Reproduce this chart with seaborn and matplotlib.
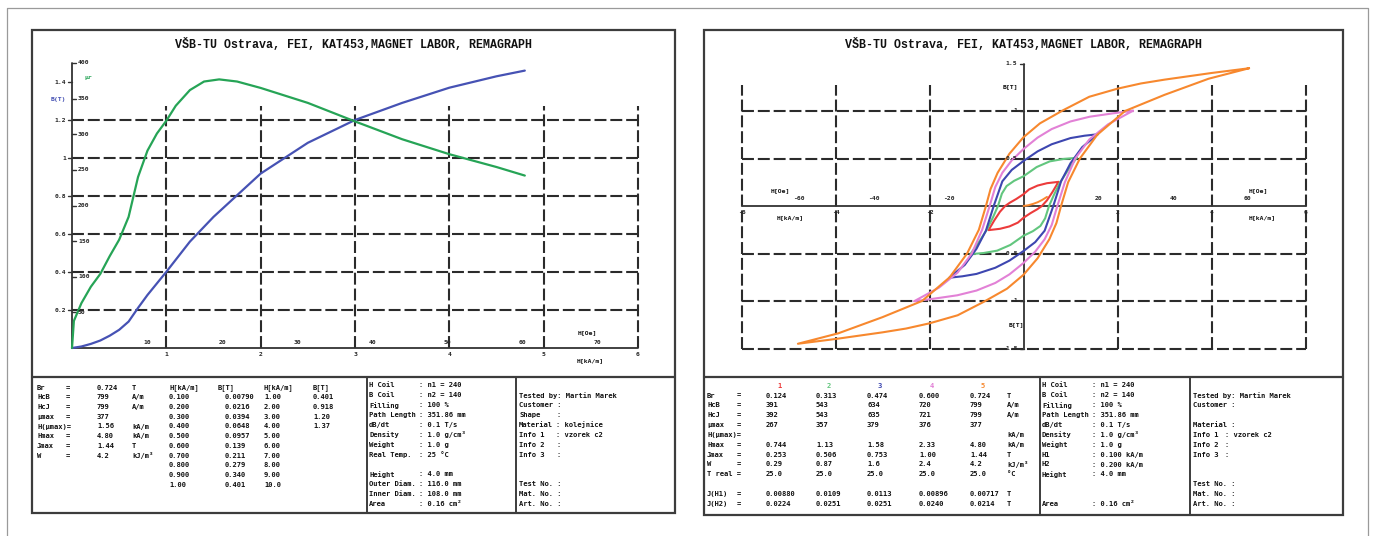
import matplotlib
matplotlib.use("Agg")
import matplotlib.pyplot as plt
from matplotlib.patches import Rectangle
import pandas as pd
import seaborn as sns

sns.set_theme(style="white")
plt.rcParams["font.family"] = ["DejaVu Sans Mono", "DejaVu Sans"]
plt.rcParams["font.weight"] = "bold"
plt.rcParams["lines.scale_dashes"] = False

TITLE = "VŠB-TU Ostrava, FEI, KAT453,MAGNET LABOR, REMAGRAPH"
OE = 0.0795775  # kA/m per oersted

# ---------------- initial magnetisation curve (left chart) ----------------
H_fine = [0.1, 0.2, 0.3, 0.4, 0.5, 0.6, 0.7, 0.8, 0.9, 1.0]
B_fine = [0.00790, 0.0216, 0.0394, 0.0648, 0.0957, 0.139, 0.211, 0.279, 0.340, 0.401]
H_coarse = [1.0, 2.0, 3.0, 4.0, 5.0, 6.0, 7.0, 8.0, 9.0, 10.0]
B_coarse = [0.401, 0.918, 1.20, 1.37]
H_extra = [1.25, 1.5, 2.5, 3.5, 4.5, 4.8]
B_extra = [0.56, 0.69, 1.08, 1.29, 1.43, 1.46]

# relative permeability
H_mu = [0.0, 0.02, 0.1, 0.2, 0.3, 0.4, 0.5, 0.6, 0.7, 0.8, 0.9, 1.0, 1.1, 1.25,
        1.4, 1.56, 1.75, 2.0, 2.5, 3.0, 3.5, 4.0, 4.5, 4.8]
mu_r = [0, 38, 63, 86, 104, 129, 152, 184, 240, 277, 301, 319, 340, 362,
        374, 377, 374, 365, 344, 318, 293, 272, 254, 242]

# summary of the initial curve
sum_labels = ["Br", "HcB", "HcJ", "μmax", "H(μmax)=", "Hmax", "Jmax", "W"]
sum_values = ["0.724", "799", "799", "377", "1.56", "4.80", "1.44", "4.2"]
sum_units = ["T", "A/m", "A/m", "", "kA/m", "kA/m", "T", "kJ/m³"]

# ---------------- hysteresis loops (upper branches, from +tip to -tip) ----------------
loop1_H = [0.744, 0.5, 0.3, 0.12, 0.0, -0.15, -0.29, -0.391, -0.5, -0.62, -0.744]
loop1_B = [0.254, 0.24, 0.215, 0.175, 0.124, 0.075, 0.035, 0.0, -0.06, -0.15, -0.254]
loop2_H = [1.13, 0.85, 0.56, 0.28, 0.0, -0.2, -0.36, -0.46, -0.543, -0.65, -0.78, -0.95, -1.13]
loop2_B = [0.507, 0.495, 0.47, 0.41, 0.313, 0.265, 0.21, 0.13, 0.0, -0.12, -0.25, -0.38, -0.507]
loop3_H = [1.58, 1.3, 1.0, 0.6, 0.3, 0.0, -0.25, -0.45, -0.634, -0.8, -1.0, -1.25, -1.58]
loop3_B = [0.755, 0.74, 0.715, 0.65, 0.575, 0.474, 0.38, 0.26, 0.0, -0.26, -0.45, -0.62, -0.755]
loop4_H = [2.33, 1.9, 1.41, 1.0, 0.6, 0.3, 0.0, -0.25, -0.45, -0.6, -0.72, -0.88, -1.1, -1.4, -1.8, -2.33]
loop4_B = [1.003, 0.975, 0.94, 0.89, 0.81, 0.72, 0.60, 0.48, 0.35, 0.2, 0.0, -0.25, -0.5, -0.7, -0.86, -1.003]
loop5_H = [4.8, 4.0, 3.0, 2.5, 2.0, 1.4, 0.85, 0.35, 0.0, -0.3, -0.55, -0.7, -0.799, -0.95,
           -1.2, -1.57, -2.16, -3.0, -3.94, -4.8]
loop5_B = [1.45, 1.40, 1.33, 1.29, 1.235, 1.15, 1.01, 0.87, 0.724, 0.55, 0.35, 0.18, 0.0, -0.25,
           -0.5, -0.75, -1.0, -1.17, -1.34, -1.45]
loop_colors = ["#ec3b3b", "#62c67e", "#3d46b0", "#e281d6", "#f7882e"]

loop_ids = ["1", "2", "3", "4", "5"]
loop_Br = ["0.124", "0.313", "0.474", "0.600", "0.724"]
loop_HcB = ["391", "543", "634", "720", "799"]
loop_HcJ = ["392", "543", "635", "721", "799"]
loop_mu = ["267", "357", "379", "376", "377"]
loop_Hmax = ["0.744", "1.13", "1.58", "2.33", "4.80"]
loop_Jmax = ["0.253", "0.506", "0.753", "1.00", "1.44"]
loop_W = ["0.29", "0.87", "1.6", "2.4", "4.2"]
loop_T = ["25.0", "25.0", "25.0", "25.0", "25.0"]
loop_JH1 = ["0.00880", "0.0109", "0.0113", "0.00896", "0.00717"]
loop_JH2 = ["0.0224", "0.0251", "0.0251", "0.0240", "0.0214"]

# ---------------- figure ----------------
W, HT = 1374, 536
fig = plt.figure(figsize=(W / 100, HT / 100), dpi=100)
fig.patch.set_facecolor("white")

bg = fig.add_axes([0, 0, 1, 1])
bg.set_xlim(0, W)
bg.set_ylim(HT, 0)
bg.axis("off")

FS = 5.1
EDGE = "#3c3c3c"


def put(x, y, s, color="#111111", ha="left", size=FS, family=None):
    kw = {"family": family} if family else {}
    bg.text(x, y, s, ha=ha, va="center", fontsize=size, color=color,
            fontweight="bold", **kw)


# outer frame
bg.plot([7, 7, 1368, 1368], [540, 8, 8, 540], color="#9a9a9a", lw=0.9)


def panel(x0, x1, y0, y1, ysep, c1, c2):
    bg.add_patch(Rectangle((x0, y0), x1 - x0, y1 - y0, fill=False, ec=EDGE, lw=1.6))
    bg.plot([x0, x1], [ysep, ysep], color=EDGE, lw=1.6)
    for c in (c1, c2):
        bg.plot([c, c], [ysep, y1], color=EDGE, lw=1.4)
    put((x0 + x1) / 2, 44, TITLE, ha="center", size=8.4,
        family=["Liberation Mono", "DejaVu Sans"])


panel(32, 675, 30, 513, 377, 367, 516)
panel(704, 1343, 30, 515, 377, 1040, 1190)


def px_axes(x0, y0, x1, y1):
    ax = fig.add_axes([x0 / W, 1 - y1 / HT, (x1 - x0) / W, (y1 - y0) / HT])
    ax.patch.set_alpha(0)
    ax.axis("off")
    return ax


DASH = (0, (8.6, 2.8))
GRID = "#2b2b2b"
TK = 4.6

# ================= left chart =================
LX0, LY0, LX1, LY1 = 36, 50, 672, 372
L_OX, L_OY, L_SX, L_SY = 72, 348, 566 / 6, 190
MU_PER_T = 400 / 1.5
axL = px_axes(LX0, LY0, LX1, LY1)
axL.set_xlim((LX0 - L_OX) / L_SX, (LX1 - L_OX) / L_SX)
axL.set_ylim((L_OY - LY1) / L_SY, (L_OY - LY0) / L_SY)

b_grid = [0.2, 0.4, 0.6, 0.8, 1.0, 1.2]
h_grid = [1, 2, 3, 4, 5, 6]
axL.hlines(b_grid, 0, 6, colors=GRID, linestyles=DASH, lw=1.5)
axL.vlines(h_grid, 0, 1.274, colors=GRID, linestyles=DASH, lw=1.5)
axL.plot([0, 6], [0, 0], color="#333333", lw=1.3)
axL.plot([0, 0], [0, 1.5], color="#333333", lw=1.3)

for b in [0.2, 0.4, 0.6, 0.8, 1.0, 1.2, 1.4]:
    axL.plot([-4 / L_SX, 0], [b, b], color="#333333", lw=1.0)
    axL.text(-6 / L_SX, b, f"{b:g}", ha="right", va="center", fontsize=TK)
for h in h_grid:
    axL.text(h, -6.5 / L_SY, f"{h}", ha="center", va="center", fontsize=TK)
for oe in [10, 20, 30, 40, 50, 60, 70]:
    axL.text(oe * OE, 5.5 / L_SY, f"{oe}", ha="center", va="center", fontsize=TK)

# magnetisation curve built from the tabulated and additional points
curve = pd.DataFrame({"H": [0.0] + H_fine + H_coarse[1:len(B_coarse)] + H_extra,
                      "B": [0.0] + B_fine + B_coarse[1:] + B_extra}).sort_values("H")
sns.lineplot(data=curve, x="H", y="B", ax=axL, color="#4652b4", lw=1.6,
             sort=False, estimator=None)

axM = axL.twinx()
axM.patch.set_alpha(0)
axM.axis("off")
axM.set_ylim(axL.get_ylim()[0] * MU_PER_T, axL.get_ylim()[1] * MU_PER_T)
for m in [50, 100, 150, 200, 250, 300, 350, 400]:
    axM.plot([0, 4 / L_SX], [m, m], color="#333333", lw=1.0)
    axM.text(6 / L_SX, m, f"{m}", ha="left", va="center", fontsize=TK)
mu_df = pd.DataFrame({"H": H_mu, "mu": mu_r})
sns.lineplot(data=mu_df, x="H", y="mu", ax=axM, color="#26a456", lw=1.6,
             sort=False, estimator=None)
axL.set_xlabel(""); axL.set_ylabel(""); axM.set_xlabel(""); axM.set_ylabel("")

put(58, 100, "B(T)", color="#4652b4", ha="center", size=TK)
put(88, 77, "μr", color="#26a456", ha="center", size=TK)
put(587, 333, "H[Oe]", ha="center", size=TK)
put(590, 361, "H[kA/m]", ha="center", size=TK)

# ================= right chart =================
RX0, RY0, RX1, RY1 = 710, 50, 1338, 372
R_OX, R_OY, R_SX, R_SY = 1023.5, 206, 47, 95
axR = px_axes(RX0, RY0, RX1, RY1)
axR.set_xlim((RX0 - R_OX) / R_SX, (RX1 - R_OX) / R_SX)
axR.set_ylim((R_OY - RY1) / R_SY, (R_OY - RY0) / R_SY)

axR.hlines([1.0, 0.5, -0.5, -1.0, -1.5], -6, 6, colors=GRID, linestyles=DASH, lw=1.5)
axR.vlines([-6, -4, -2, 2, 4, 6], -1.5, 1.27, colors=GRID, linestyles=DASH, lw=1.5)
axR.plot([-6, 6], [0, 0], color="#333333", lw=1.3)
axR.plot([0, 0], [-1.5, 1.5], color="#333333", lw=1.3)
for b in [1.5, 1.0, 0.5, -0.5, -1.0, -1.5]:
    axR.plot([-4 / R_SX, 0], [b, b], color="#333333", lw=1.0)
    axR.text(-6 / R_SX, b, f"{b:g}", ha="right", va="center", fontsize=TK)
for h in [-6, -4, -2, 2, 4, 6]:
    axR.text(h, -7 / R_SY, f"{h}", ha="center", va="center", fontsize=TK)
for oe in [-60, -40, -20, 20, 40, 60]:
    axR.text(oe * OE, 7 / R_SY, f"{oe}", ha="center", va="center", fontsize=TK)

# virgin curve from the origin
virgin = pd.DataFrame({"H": [0.0] + H_fine[:5], "B": [0.0] + B_fine[:5]})
sns.lineplot(data=virgin, x="H", y="B", ax=axR, color=loop_colors[4], lw=1.4,
             sort=False, estimator=None)

loops = [(loop1_H, loop1_B), (loop2_H, loop2_B), (loop3_H, loop3_B),
         (loop4_H, loop4_B), (loop5_H, loop5_B)]
for (hu, bu), col in zip(loops, loop_colors):
    # descending branch followed by the point-symmetric ascending branch
    df = pd.DataFrame({"H": hu + [-h for h in hu], "B": bu + [-b for b in bu]})
    sns.lineplot(data=df, x="H", y="B", ax=axR, color=col, lw=1.5,
                 sort=False, estimator=None)
axR.set_xlabel(""); axR.set_ylabel("")

put(1010, 87, "B[T]", ha="center", size=TK)
put(1016, 325, "B[T]", ha="center", size=TK)
put(780, 191, "H[Oe]", ha="center", size=TK)
put(1258, 191, "H[Oe]", ha="center", size=TK)
put(790, 218, "H[kA/m]", ha="center", size=TK)
put(1262, 218, "H[kA/m]", ha="center", size=TK)

# ================= left tables =================
ROW0, PITCH = 387.7, 9.7
for k, (lab, val, unit) in enumerate(zip(sum_labels, sum_values, sum_units)):
    y = ROW0 + PITCH * k
    put(37, y, lab)
    if not lab.endswith("="):
        put(66, y, "=")
    put(97, y, val)
    put(132, y, unit)

put(169, ROW0, "H[kA/m]")
put(218, ROW0, "B[T]")
put(263, ROW0, "H[kA/m]")
put(313, ROW0, "B[T]")
for k, (h, b) in enumerate(zip(H_fine, B_fine), start=1):
    put(169, ROW0 + PITCH * k, f"{h:#.3g}")
    put(225, ROW0 + PITCH * k, f"{b:#.3g}")
for k, h in enumerate(H_coarse, start=1):
    put(264, ROW0 + PITCH * k, f"{h:#.3g}")
for k, b in enumerate(B_coarse, start=1):
    put(313, ROW0 + PITCH * k, f"{b:#.3g}")

INFO0, IP = 385.3, 9.9
left_info = [("H Coil", ": n1 = 240"), ("B Coil", ": n2 = 140"), ("Filling", ": 100 %"),
             ("Path Length", ": 351.86 mm"), ("dB/dt", ": 0.1 T/s"),
             ("Density", ": 1.0 g/cm³"), ("Weight", ": 1.0 g"), ("Real Temp.", ": 25 °C"),
             None, ("Height", ": 4.0 mm"), ("Outer Diam.", ": 116.0 mm"),
             ("Inner Diam.", ": 108.0 mm"), ("Area", ": 0.16 cm²")]
for k, item in enumerate(left_info):
    if item:
        put(369, INFO0 + IP * k, item[0])
        put(419, INFO0 + IP * k, item[1])

left_misc = {1: ("Tested by: Martin Marek", None), 2: ("Customer :", None),
             3: ("Shape", ":"), 4: ("Material", ": kolejnice"), 5: ("Info 1", ": vzorek c2"),
             6: ("Info 2", ":"), 7: ("Info 3", ":"), 10: ("Test No. :", None),
             11: ("Mat. No. :", None), 12: ("Art. No. :", None)}
for k, (a, b) in left_misc.items():
    put(519, INFO0 + IP * k, a)
    if b:
        put(556, INFO0 + IP * k, b)

# ================= right tables =================
RROW0, RP = 385.7, 9.85
loop_col_x = [766, 816, 867, 919, 970]
for x, c, t in zip(loop_col_x, loop_colors, loop_ids):
    put(x + 11, RROW0, t, color=c)
rows = [("Br", loop_Br, "T"), ("HcB", loop_HcB, "A/m"), ("HcJ", loop_HcJ, "A/m"),
        ("μmax", loop_mu, ""), ("H(μmax)=", None, "kA/m"), ("Hmax", loop_Hmax, "kA/m"),
        ("Jmax", loop_Jmax, "T"), ("W", loop_W, "kJ/m³"), ("T real =", loop_T, "°C"),
        None, ("J(H1)", loop_JH1, "T"), ("J(H2)", loop_JH2, "T")]
for k, row in enumerate(rows, start=1):
    if row is None:
        continue
    lab, vals, unit = row
    y = RROW0 + RP * k
    put(707, y, lab)
    if not lab.endswith("="):
        put(737, y, "=")
    if vals:
        for x, v in zip(loop_col_x, vals):
            put(x, y, v)
    put(1007, y, unit)

right_info = [("H Coil", ": n1 = 240"), ("B Coil", ": n2 = 140"), ("Filling", ": 100 %"),
              ("Path Length", ": 351.86 mm"), ("dB/dt", ": 0.1 T/s"),
              ("Density", ": 1.0 g/cm³"), ("Weight", ": 1.0 g"), ("H1", ": 0.100 kA/m"),
              ("H2", ": 0.200 kA/m"), ("Height", ": 4.0 mm"), None, None,
              ("Area", ": 0.16 cm²")]
for k, item in enumerate(right_info):
    if item:
        put(1042, INFO0 + IP * k, item[0])
        put(1092, INFO0 + IP * k, item[1])

right_misc = {1: ("Tested by: Martin Marek", None), 2: ("Customer :", None),
              4: ("Material :", None), 5: ("Info 1", ": vzorek c2"),
              6: ("Info 2", ":"), 7: ("Info 3", ":"), 10: ("Test No. :", None),
              11: ("Mat. No. :", None), 12: ("Art. No. :", None)}
for k, (a, b) in right_misc.items():
    put(1193, INFO0 + IP * k, a)
    if b:
        put(1225, INFO0 + IP * k, b)

fig.savefig("out.png", dpi=100, facecolor="white")
